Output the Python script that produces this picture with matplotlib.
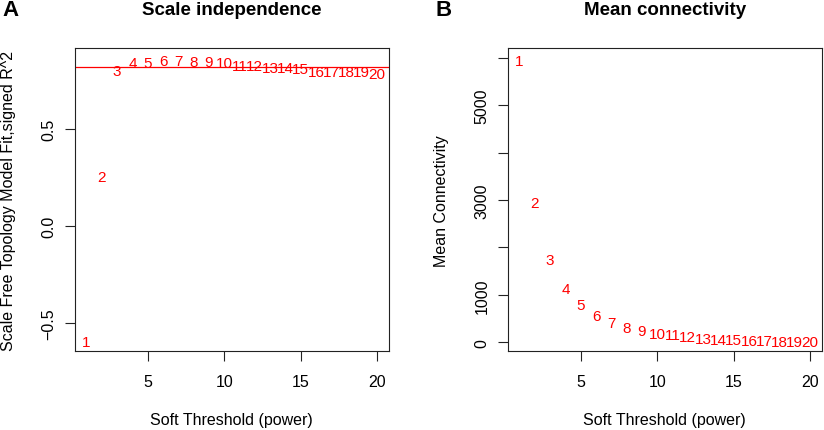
import matplotlib
matplotlib.use("Agg")
import matplotlib.pyplot as plt

plt.rcParams['font.family'] = ['Liberation Sans', 'DejaVu Sans']

powers = list(range(1, 21))
signed_r2 = [-0.59, 0.261, 0.809, 0.849, 0.849, 0.859, 0.857, 0.854, 0.854, 0.849,
             0.832, 0.832, 0.823, 0.823, 0.816, 0.804, 0.804, 0.804, 0.804, 0.792]
mean_k = [5962, 2975, 1764, 1146, 808, 591, 449, 338, 274, 217,
          175, 139, 105, 84, 70, 56, 49, 42, 35, 30]
r2_cutoff = 0.82

titles = ["Scale independence", "Mean connectivity"]
panel_letters = ["A", "B"]
xlabel = "Soft Threshold (power)"
ylabels = ["Scale Free Topology Model Fit,signed R^2", "Mean Connectivity"]
x_ticks = [5, 10, 15, 20]
a_yticks = [-0.5, 0.0, 0.5]
a_yticklabels = ["\u22120.5", "0.0", "0.5"]
b_yticks = [0, 1000, 2000, 3000, 4000, 5000, 6000]
b_yticklabels = ["0", "1000", "", "3000", "", "5000", ""]

W, H = 824, 431
fig = plt.figure(figsize=(W / 100, H / 100), dpi=100)

def fx(px):
    return px / W

def fy(py):
    return (H - py) / H

box_top, box_bot = 49, 352.3
axes_lr = [(75, 388.7), (508, 821.7)]
red = "#FF0000"
fs = 11
fs_tick = 11.5
fs_lab = 11.5

axs = []
for (l, r) in axes_lr:
    ax = fig.add_axes([fx(l), fy(box_bot), fx(r - l), (box_bot - box_top) / H])
    axs.append(ax)
    for s in ax.spines.values():
        s.set_linewidth(0.8)
        s.set_color("#222222")
    ax.set_xlim(0.24, 20.76)
    ax.set_xticks(x_ticks)
    ax.tick_params(direction="out", length=7.2, width=0.8, labelsize=fs_tick, color="#222222")
    ax.tick_params(axis="x", pad=9.5)
    ax.tick_params(axis="y", pad=6)

axA, axB = axs

# Panel A
axA.set_ylim(-0.644, 0.9175)
axA.set_yticks(a_yticks)
axA.set_yticklabels(a_yticklabels, rotation=90, va="center")
axA.axhline(r2_cutoff, color=red, linewidth=0.9)
for p, v in zip(powers, signed_r2):
    axA.text(p, v, str(p), color=red, fontsize=fs, ha="center", va="center_baseline")

# Panel B
axB.set_ylim(-190, 6209)
axB.set_yticks(b_yticks)
axB.set_yticklabels(b_yticklabels, rotation=90, va="center")
for p, v in zip(powers, mean_k):
    axB.text(p, v, str(p), color=red, fontsize=fs, ha="center", va="center_baseline")

ylabel_x = [8.3, 441.7]
letter_x = [10.7, 444]
for i, (l, r) in enumerate(axes_lr):
    cx = (l + r) / 2
    fig.text(fx(cx), fy(10.5), titles[i], fontsize=13.5, fontweight="bold",
             ha="center", va="center")
    fig.text(fx(cx), fy(420.5), xlabel, fontsize=fs_lab, ha="center", va="center")
    fig.text(fx(ylabel_x[i]), fy((box_top + box_bot) / 2), ylabels[i], fontsize=fs_lab,
             rotation=90, ha="center", va="center")
    fig.text(fx(letter_x[i]), fy(11), panel_letters[i], fontsize=16, fontweight="bold",
             ha="center", va="center")

fig.savefig("out.png", dpi=100)
